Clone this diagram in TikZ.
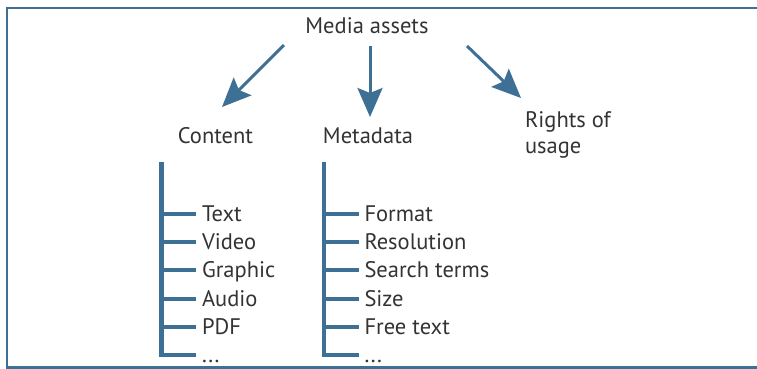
\documentclass[tikz,border=0pt]{standalone}
\usepackage{fontspec}
\setmainfont{PT Sans}
\usetikzlibrary{arrows.meta}

\definecolor{c3e7096}{RGB}{62,112,150}
\definecolor{c333333}{RGB}{51,51,51}

\begin{document}
\begin{tikzpicture}[y=1pt, x=1pt, yscale=-1, inner sep=0pt, outer sep=0pt,
  every node/.style={text=c333333, font=\fontsize{22.5}{26}\selectfont},
  pointer/.style={draw=c3e7096, line width=3pt,
    -{Stealth[length=29pt,width=25pt,inset=5pt]}},
  bracket/.style={draw=c3e7096, line width=4.5pt, line join=miter,
    line cap=butt},
  item/.style={anchor=west, inner xsep=6pt, text height=14.5pt,
    text depth=0pt}]

  \useasboundingbox (0,0) rectangle (757,368);
  \clip (0,0) rectangle (757,368);
  \path[draw=c3e7096,line width=2.3pt] (800,7.8) -- (7,7.8) -- (7,367.5)
    -- (800,367.5);

  % top and the three heads
  \path (367,33.3) node[anchor=base] (text1) {Media assets};
  \path (215.5,143) node[anchor=base] (text2) {Content};
  \path (368,143) node[anchor=base] (text3) {Metadata};
  \path (525,153) node[anchor=base west, align=left] (text4)
    {Rights of\\usage};

  \coordinate (arr1a) at (284,45);
  \coordinate (arr1b) at (222,107);
  \coordinate (arr2a) at (370,46);
  \coordinate (arr2b) at (370,117);
  \coordinate (arr3a) at (467,46);
  \coordinate (arr3b) at (521,98);
  \path[pointer] (arr1a) -- (arr1b);
  \path[pointer] (arr2a) -- (arr2b);
  \path[pointer] (arr3a) -- (arr3b);

  % content list
  \coordinate (bar1) at (161.5,162);
  \path (196,214) node[item] (text5) {Text};
  \path (196,242) node[item] (text6) {Video};
  \path (196,270) node[item] (text7) {Graphic};
  \path (196,299) node[item] (text8) {Audio};
  \path (196,327) node[item] (text9) {PDF};
  \path (196,355) node[item] (text10) {...};
  \path[bracket] (bar1) |- (text5.west);
  \path[bracket] (bar1) |- (text6.west);
  \path[bracket] (bar1) |- (text7.west);
  \path[bracket] (bar1) |- (text8.west);
  \path[bracket] (bar1) |- (text9.west);
  \path[bracket] (bar1) |- (text10.west);

  % metadata list
  \coordinate (bar2) at (324,162);
  \path (358.5,214) node[item] (text11) {Format};
  \path (358.5,242) node[item] (text12) {Resolution};
  \path (358.5,270) node[item] (text13) {Search terms};
  \path (358.5,299) node[item] (text14) {Size};
  \path (358.5,327) node[item] (text15) {Free text};
  \path (358.5,355) node[item] (text16) {...};
  \path[bracket] (bar2) |- (text11.west);
  \path[bracket] (bar2) |- (text12.west);
  \path[bracket] (bar2) |- (text13.west);
  \path[bracket] (bar2) |- (text14.west);
  \path[bracket] (bar2) |- (text15.west);
  \path[bracket] (bar2) |- (text16.west);

\end{tikzpicture}
\end{document}
